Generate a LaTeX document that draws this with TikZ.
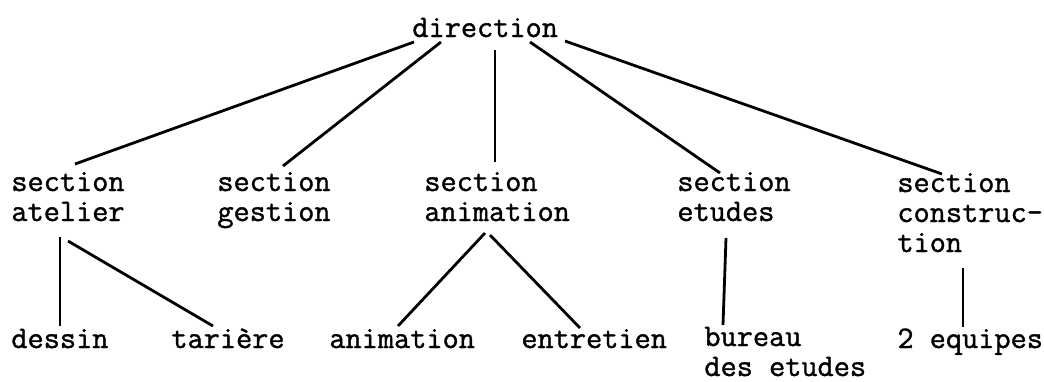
\documentclass[tikz,border=0pt]{standalone}
\usepackage{fontspec}
\newfontfamily\typew[FakeBold=1.2]{Latin Modern Mono}
\usetikzlibrary{calc}
\tikzset{lbl/.style={anchor=base west, inner sep=0, align=left, font=\typew\fontsize{15.7}{15}\selectfont},
  link/.style={black, line width=1.4pt}}

\begin{document}
\begin{tikzpicture}[x=0.5pt, y=-0.5pt]
\useasboundingbox (0,0) rectangle (1044,381);
% top (multi-line nodes sit on their last baseline)
\node[lbl] (dir) at (412,37) {direction};
% sections
\node[lbl] (atel) at (11,221) {section\\atelier};
\node[lbl] (gest) at (217,221) {section\\gestion};
\node[lbl] (anim) at (424,221) {section\\animation};
\node[lbl] (etud) at (677,221) {section\\etudes};
\node[lbl] (constr) at (897,252) {section\\construc-\\tion};
% bottom row
\node[lbl] (dessin) at (11,348) {dessin};
\node[lbl] (tariere) at (171,348) {tarière};
\node[lbl] (animb) at (329,348) {animation};
\node[lbl] (entr) at (521,348) {entretien};
\node[lbl] (bureau) at (704,376) {bureau\\des etudes};
\node[lbl] (equipes) at (897,348) {2 equipes};
% links
\draw[link] ($(dir.base west)+(2,5)$) -- ($(atel.base west)+(64,-57)$);
\draw[link] ($(dir.base west)+(29,5)$) -- ($(gest.base west)+(66,-55)$);
\draw[link] ($(dir.base west)+(83,13)$) -- ($(anim.base west)+(71,-59)$);
\draw[link] ($(dir.base west)+(118,5)$) -- ($(etud.base west)+(43,-48)$);
\draw[link] ($(dir.base west)+(153,4)$) -- ($(constr.base west)+(45,-78)$);
\draw[link] ($(atel.base west)+(49,16)$) -- ($(dessin.base west)+(49,-22)$);
\draw[link] ($(atel.base west)+(57,20)$) -- ($(tariere.base west)+(42,-22)$);
\draw[link] ($(anim.base west)+(61,12)$) -- ($(animb.base west)+(69,-22)$);
\draw[link] ($(anim.base west)+(66,14)$) -- ($(entr.base west)+(59,-20)$);
\draw[link] ($(etud.base west)+(49,17)$) -- ($(bureau.base west)+(19,-51)$);
\draw[link] ($(constr.base west)+(66,16)$) -- ($(equipes.base west)+(66,-21)$);
\end{tikzpicture}
\end{document}
